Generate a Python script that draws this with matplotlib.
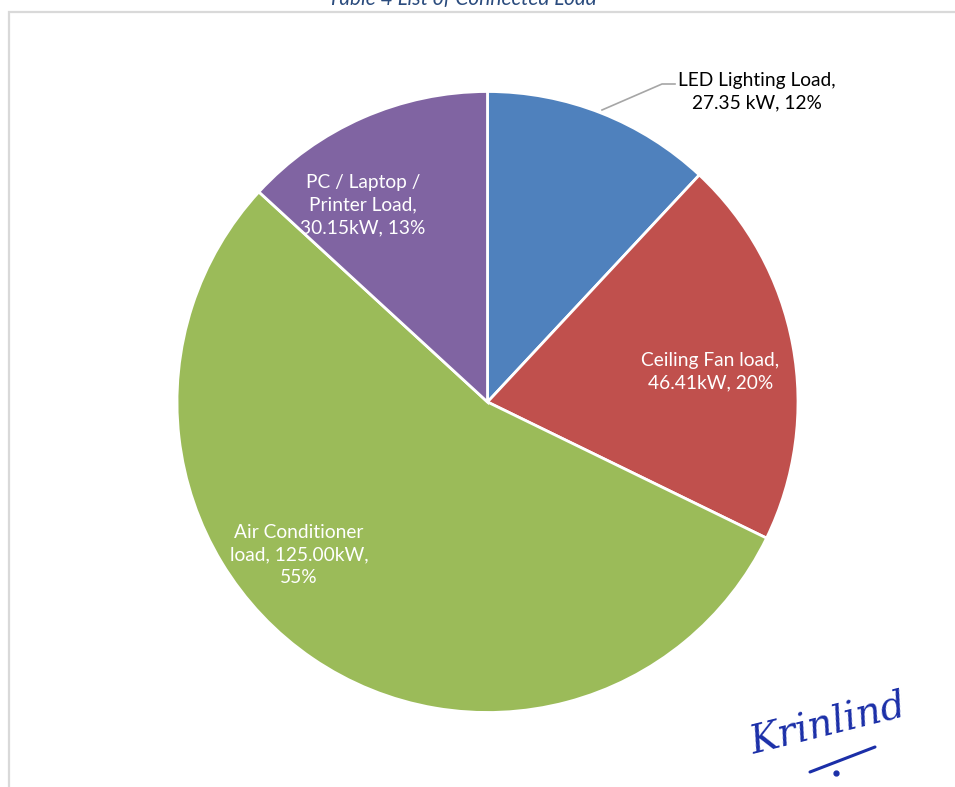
import matplotlib
matplotlib.use("Agg")
import matplotlib.pyplot as plt
from matplotlib.patches import Rectangle
from matplotlib.lines import Line2D

# Connected load by category (kW)
categories = ["LED Lighting Load", "Ceiling Fan load", "Air Conditioner\nload", "PC / Laptop /\nPrinter Load"]
loads_kw = [27.35, 46.41, 125.00, 30.15]
kw_text = ["27.35 kW", "46.41kW", "125.00kW", "30.15kW"]
colors = ["#4F81BD", "#C0504D", "#9BBB59", "#8064A2"]

W, H = 955, 787
DPI = 100
fig = plt.figure(figsize=(W / DPI, H / DPI), dpi=DPI)
fig.patch.set_facecolor("white")

def fx(px):
    return px / W

def fy(py):
    return 1 - py / H

# chart frame
fig.patches.append(Rectangle((fx(9), fy(800)), fx(1000), (800 - 12) / H,
                             transform=fig.transFigure, fill=False,
                             edgecolor="#D9D9D9", linewidth=1.6))

# caption above the frame
fig.text(fx(462), fy(5), "Table 4 List of Connected Load", ha="center", va="baseline",
         fontsize=15, style="italic", color="#2B4C7E", family="Lato")

# pie axes
cx, cy, r = 487.5, 402, 310.5
ax = fig.add_axes([fx(cx - r), fy(cy + r), 2 * r / W, 2 * r / H])
wedges, _ = ax.pie(loads_kw, colors=colors, startangle=90, counterclock=False,
                   wedgeprops=dict(edgecolor="white", linewidth=2.0))
ax.set_xlim(-1, 1)
ax.set_ylim(-1, 1)
ax.set_aspect("equal")
ax.axis("off")

total = sum(loads_kw)
pcts = [round(v / total * 100) for v in loads_kw]

# label anchors (data units of the pie axes)
label_pos = [(0.868, 1.0), (0.717, 0.097), (-0.607, -0.493), (-0.401, 0.634)]
label_color = ["black", "white", "white", "white"]

for i, (cat, kw, p) in enumerate(zip(categories, kw_text, pcts)):
    if i == 2:
        txt = f"{cat}, {kw},\n{p}%"
    else:
        txt = f"{cat},\n{kw}, {p}%"
    x, y = label_pos[i]
    ax.text(x, y, txt, ha="center", va="center", fontsize=13.8, color=label_color[i],
            family="Lato", linespacing=1.38, clip_on=False)

# leader line for the outside label
ax.plot([(602 - cx) / r, (662 - cx) / r, (675 - cx) / r],
        [(cy - 110) / r, (cy - 84) / r, (cy - 84) / r],
        color="#A6A6A6", linewidth=1.2, clip_on=False)

# signature
sig_color = "#1B2FA8"
fig.text(fx(828), fy(725), "Krinlind", ha="center", va="center", fontsize=28,
         style="italic", color=sig_color, family="DejaVu Serif", rotation=14)
fig.lines.append(Line2D([fx(810), fx(875)], [fy(772), fy(747)], transform=fig.transFigure,
                        color=sig_color, linewidth=2.2, solid_capstyle="round"))
fig.lines.append(Line2D([fx(836)], [fy(773)], transform=fig.transFigure, marker="o",
                        markersize=3.5, color=sig_color, linestyle="none"))

fig.savefig("out.png", dpi=DPI)
